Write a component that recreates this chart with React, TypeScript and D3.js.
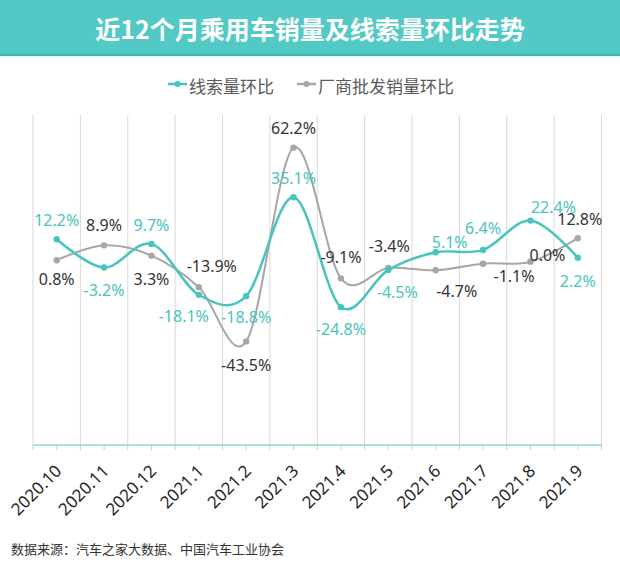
import { useEffect, useRef } from 'react';
import * as d3 from 'd3';

// months on the x axis
const months: string[] = ['2020.10', '2020.11', '2020.12', '2021.1', '2021.2', '2021.3', '2021.4', '2021.5', '2021.6', '2021.7', '2021.8', '2021.9'];
// 线索量环比 (%)
const leadValues: number[] = [12.2, -3.2, 9.7, -18.1, -18.8, 35.1, -24.8, -4.5, 5.1, 6.4, 22.4, 2.2];
// 厂商批发销量环比 (%)
const wholesaleValues: number[] = [0.8, 8.9, 3.3, -13.9, -43.5, 62.2, -9.1, -3.4, -4.7, -1.1, 0.0, 12.8];
const seriesNames: string[] = ['线索量环比', '厂商批发销量环比'];
const yDomain: [number, number] = [-100, 80];

// label offsets (dx, dy) from each point, to keep labels apart like the original
const leadLabelPos: [number, number][] = [[0, -19], [0, 22], [0, -19], [-15, 21], [0, 21], [0, -19], [0, 22], [9, 22], [14, -10], [0, -22], [23, -14], [0, 23]];
const wholesaleLabelPos: [number, number][] = [[0, 19], [0, -20], [0, 23], [13, -21], [0, 24], [0, -20], [0, -21], [1, -22], [21, 21], [31, 12], [17, -7], [2, -19]];

const W = 620;
const H = 567;
const TEAL = '#47c4bd';
const GRAY = '#a6a6a6';
const FONT = '"Noto Sans", "Noto Sans CJK SC", sans-serif';

export default function App() {
    const svgRef = useRef<SVGSVGElement | null>(null);

    useEffect(() => {
        if (!svgRef.current) return;
        const svg = d3.select(svgRef.current);
        svg.selectAll('*').remove();

        const left = 33, right = 601.5, top = 115, bottom = 445;

        // title bar
        svg.append('rect').attr('x', 0).attr('y', 0).attr('width', W).attr('height', 55).attr('fill', '#52c9c4');
        svg.append('rect').attr('x', 0).attr('y', 54).attr('width', W).attr('height', 2).attr('fill', '#3fb5af');
        svg.append('rect').attr('x', 0).attr('y', 56).attr('width', W).attr('height', 2).attr('fill', '#eef6f6');
        svg.append('text')
            .attr('x', W / 2).attr('y', 28)
            .attr('text-anchor', 'middle').attr('dominant-baseline', 'central')
            .attr('font-family', '"Noto Sans CJK SC", sans-serif').attr('font-weight', 'bold')
            .attr('font-size', 25).attr('fill', '#fff')
            .text('近12个月乘用车销量及线索量环比走势');

        // legend
        const legendItems = [
            { name: seriesNames[0], color: TEAL, x: 168 },
            { name: seriesNames[1], color: GRAY, x: 297 },
        ];
        const lg = svg.append('g');
        legendItems.forEach(it => {
            lg.append('line').attr('x1', it.x).attr('x2', it.x + 19).attr('y1', 84).attr('y2', 84)
                .attr('stroke', it.color).attr('stroke-width', 2.5);
            lg.append('circle').attr('cx', it.x + 9.5).attr('cy', 84).attr('r', 3).attr('fill', it.color);
            lg.append('text').attr('x', it.x + 21).attr('y', 85)
                .attr('dominant-baseline', 'central')
                .attr('font-family', '"Noto Sans CJK SC", sans-serif').attr('font-size', 17)
                .attr('fill', '#595959').text(it.name);
        });

        // scales
        const x = d3.scaleBand<string>().domain(months).range([left, right]).padding(0);
        const y = d3.scaleLinear().domain(yDomain).range([bottom, top]);
        const cx = (m: string) => (x(m) ?? 0) + x.bandwidth() / 2;

        // vertical gridlines at band edges
        const edges = months.map(m => x(m) ?? 0).concat([right]);
        svg.append('g').selectAll('line').data(edges).join('line')
            .attr('x1', d => d).attr('x2', d => d)
            .attr('y1', top).attr('y2', bottom)
            .attr('stroke', '#d9d9d9').attr('stroke-width', 1);

        // x axis line and ticks (edges + centers)
        const ax = svg.append('g');
        ax.append('line').attr('x1', left).attr('x2', right).attr('y1', bottom).attr('y2', bottom)
            .attr('stroke', '#8fd6d1').attr('stroke-width', 1.5);
        const tickXs = edges.concat(months.map(cx));
        ax.selectAll('line.tick').data(tickXs).join('line').attr('class', 'tick')
            .attr('x1', d => d).attr('x2', d => d).attr('y1', bottom).attr('y2', bottom + 5)
            .attr('stroke', '#a9d9d6').attr('stroke-width', 1);
        ax.selectAll('text').data(months).join('text')
            .attr('transform', d => `translate(${cx(d) + 6},${bottom + 27}) rotate(-45)`)
            .attr('text-anchor', 'end')
            .attr('font-family', FONT).attr('font-size', 17).attr('fill', '#262626')
            .text(d => d);

        // lines
        const line = d3.line<number>()
            .x((_, i) => cx(months[i]))
            .y(d => y(d))
            .curve(d3.curveCardinal.tension(0));

        const series = [
            { values: wholesaleValues, color: GRAY, width: 2, labelColor: '#333333', pos: wholesaleLabelPos },
            { values: leadValues, color: TEAL, width: 2.5, labelColor: TEAL, pos: leadLabelPos },
        ];

        series.forEach(s => {
            svg.append('path').datum(s.values)
                .attr('d', line).attr('fill', 'none')
                .attr('stroke', s.color).attr('stroke-width', s.width);
            svg.append('g').selectAll('circle').data(s.values).join('circle')
                .attr('cx', (_, i) => cx(months[i])).attr('cy', d => y(d))
                .attr('r', 3.2).attr('fill', s.color);
        });

        series.forEach(s => {
            svg.append('g').selectAll('text').data(s.values).join('text')
                .attr('x', (_, i) => cx(months[i]) + s.pos[i][0])
                .attr('y', (d, i) => y(d) + s.pos[i][1])
                .attr('text-anchor', 'middle').attr('dominant-baseline', 'central')
                .attr('font-family', FONT).attr('font-size', 16).attr('fill', s.labelColor)
                .text(d => `${d.toFixed(1)}%`);
        });

        // source note
        svg.append('text').attr('x', 11).attr('y', 548)
            .attr('dominant-baseline', 'central')
            .attr('font-family', '"Noto Sans CJK SC", sans-serif').attr('font-size', 13)
            .attr('fill', '#333').text('数据来源：汽车之家大数据、中国汽车工业协会');
    }, []);

    return (
        <svg ref={svgRef} width={W} height={H}
            style={{ position: 'absolute', left: 0, top: 0, background: '#fff' }} />
    );
}
